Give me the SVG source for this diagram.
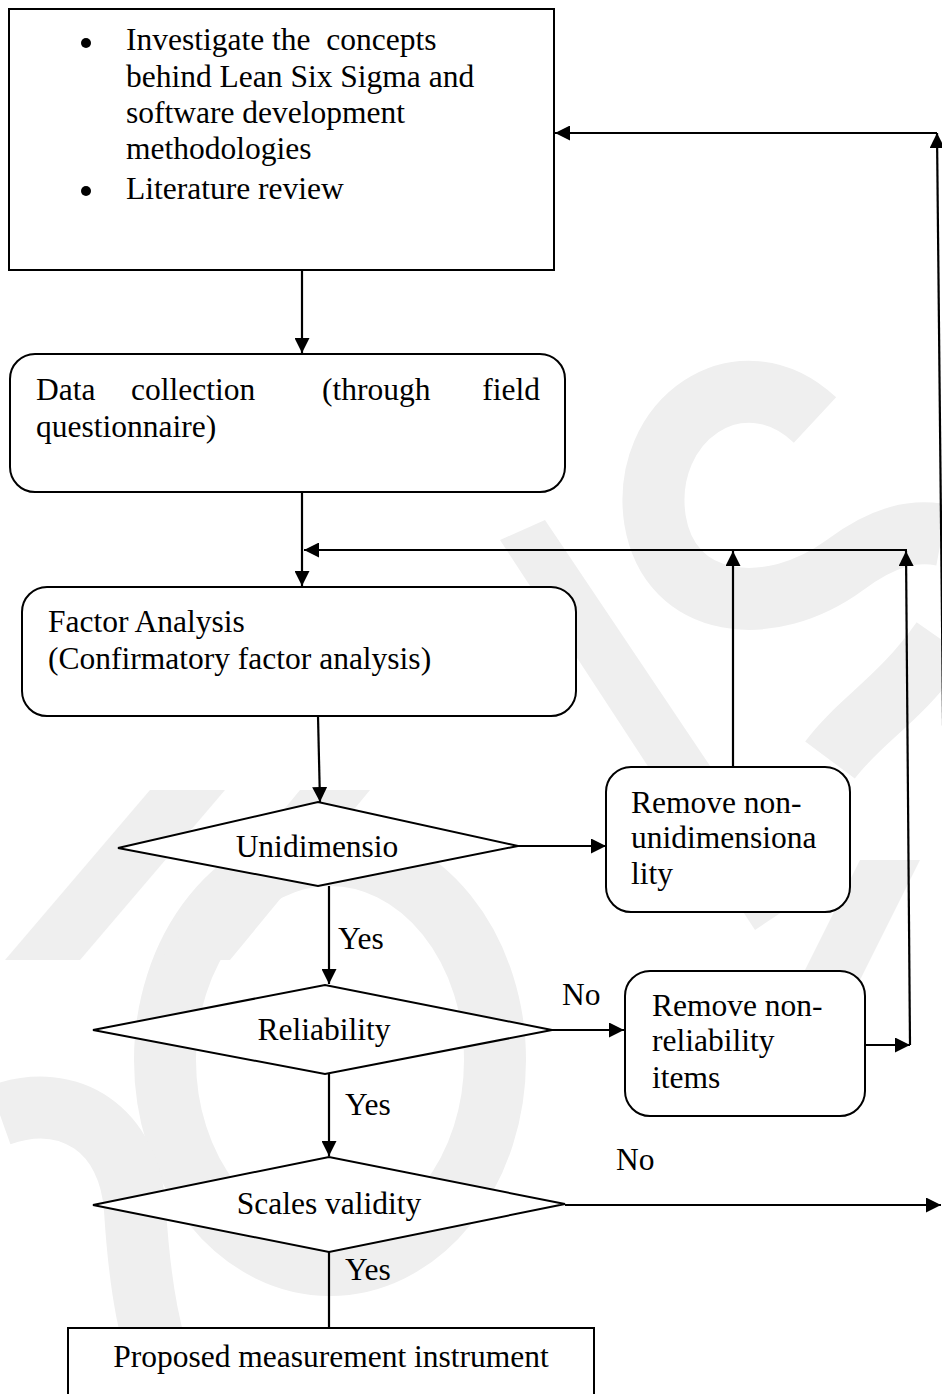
<svg xmlns="http://www.w3.org/2000/svg" width="942" height="1394" viewBox="0 0 942 1394">
  <defs>
    <marker id="arrow" viewBox="0 0 10 10" refX="10" refY="5" markerWidth="15" markerHeight="15" markerUnits="userSpaceOnUse" orient="auto">
      <path d="M0,0 L10,5 L0,10 Z" fill="#000"/>
    </marker>
    <style>
      .box { fill: #fff; stroke: #000; stroke-width: 2; }
      .line { fill: none; stroke: #000; stroke-width: 2.2; }
      .arr { fill: none; stroke: #000; stroke-width: 2.2; marker-end: url(#arrow); }
      text { font-family: "Liberation Serif", "Times New Roman", serif; font-size: 31.5px; fill: #000; white-space: pre; }
      .mid { text-anchor: middle; }
      .wm { fill: none; stroke: #efefef; stroke-width: 62; }
      .wmf { fill: #efefef; }
    </style>
  </defs>

  <rect width="942" height="1394" fill="#fff"/>

  <!-- faint background logo -->
  <g id="background-logo">
    <path class="wm" d="M 815,420 C 740,350 640,420 655,520 C 670,610 770,620 845,565 C 885,535 915,530 942,535"/>
    <path class="wm" d="M 942,640 C 900,700 860,720 830,760"/>
    <ellipse class="wm" cx="330" cy="1060" rx="165" ry="205"/>
    <path class="wm" d="M 0,1115 C 70,1090 130,1130 135,1210 C 140,1290 150,1340 170,1394"/>
    <polygon class="wmf" points="500,540 545,520 800,900 755,930"/>
    <polygon class="wmf" points="150,790 225,790 80,960 5,960"/>
    <polygon class="wmf" points="300,790 370,790 230,960 160,960"/>
    <polygon class="wmf" points="860,860 920,860 860,980 800,980"/>
  </g>

  <!-- connectors -->
  <g id="connectors">
    <line class="arr" x1="302" y1="270" x2="302" y2="353"/>
    <line class="arr" x1="302" y1="492" x2="302" y2="586"/>
    <line class="arr" x1="907" y1="550" x2="304" y2="550"/>
    <line class="arr" x1="733" y1="767" x2="733" y2="551"/>
    <line class="arr" x1="910" y1="1045" x2="906" y2="551"/>
    <line class="arr" x1="318" y1="716" x2="320" y2="802"/>
    <line class="arr" x1="518" y1="846" x2="606" y2="846"/>
    <line class="arr" x1="329" y1="886" x2="329" y2="984"/>
    <line class="arr" x1="552" y1="1030" x2="624" y2="1030"/>
    <line class="arr" x1="865" y1="1045" x2="910" y2="1045"/>
    <line class="arr" x1="329" y1="1074" x2="329" y2="1156"/>
    <line class="arr" x1="565" y1="1205" x2="941" y2="1205"/>
    <line class="line" x1="329" y1="1252" x2="329" y2="1328"/>
    <line class="arr" x1="948" y1="1205" x2="937" y2="133"/>
    <line class="arr" x1="937" y1="133" x2="555" y2="133"/>
  </g>

  <g id="labels">
    <text x="338" y="949">Yes</text>
    <text x="562" y="1005">No</text>
    <text x="345" y="1115">Yes</text>
    <text x="616" y="1170">No</text>
    <text x="345" y="1280">Yes</text>
  </g>

  <!-- nodes -->
  <g id="investigate">
    <rect class="box" x="9" y="9" width="545" height="261"/>
    <circle cx="86" cy="43" r="5"/>
    <circle cx="86" cy="191" r="5"/>
    <text x="126" y="50">Investigate the  concepts</text>
    <text x="126" y="87">behind Lean Six Sigma and</text>
    <text x="126" y="123">software development</text>
    <text x="126" y="159">methodologies</text>
    <text x="126" y="199">Literature review</text>
  </g>

  <g id="data-collection">
    <rect class="box" x="10" y="354" width="555" height="138" rx="25"/>
    <text x="36" y="400">Data</text>
    <text x="131" y="400">collection</text>
    <text x="322" y="400">(through</text>
    <text x="540" y="400" text-anchor="end">field</text>
    <text x="36" y="437">questionnaire)</text>
  </g>

  <g id="factor-analysis">
    <rect class="box" x="22" y="587" width="554" height="129" rx="25"/>
    <text x="48" y="632">Factor Analysis</text>
    <text x="48" y="669">(Confirmatory factor analysis)</text>
  </g>

  <g id="unidimensio">
    <polygon class="box" points="118,848 318,802 518,846 318,886"/>
    <text class="mid" x="317" y="857">Unidimensio</text>
  </g>

  <g id="remove-unidim">
    <rect class="box" x="606" y="767" width="244" height="145" rx="25"/>
    <text x="631" y="813">Remove non-</text>
    <text x="631" y="848">unidimensiona</text>
    <text x="631" y="884">lity</text>
  </g>

  <g id="reliability">
    <polygon class="box" points="93,1030 325,985 552,1030 325,1074"/>
    <text class="mid" x="324" y="1040">Reliability</text>
  </g>

  <g id="remove-reliability">
    <rect class="box" x="625" y="971" width="240" height="145" rx="25"/>
    <text x="652" y="1016">Remove non-</text>
    <text x="652" y="1051">reliability</text>
    <text x="652" y="1088">items</text>
  </g>

  <g id="scales-validity">
    <polygon class="box" points="93,1205 329,1157 565,1204 329,1252"/>
    <text class="mid" x="329" y="1214">Scales validity</text>
  </g>

  <g id="proposed-instrument">
    <rect class="box" x="68" y="1328" width="526" height="80"/>
    <text class="mid" x="331" y="1367">Proposed measurement instrument</text>
  </g>
</svg>
